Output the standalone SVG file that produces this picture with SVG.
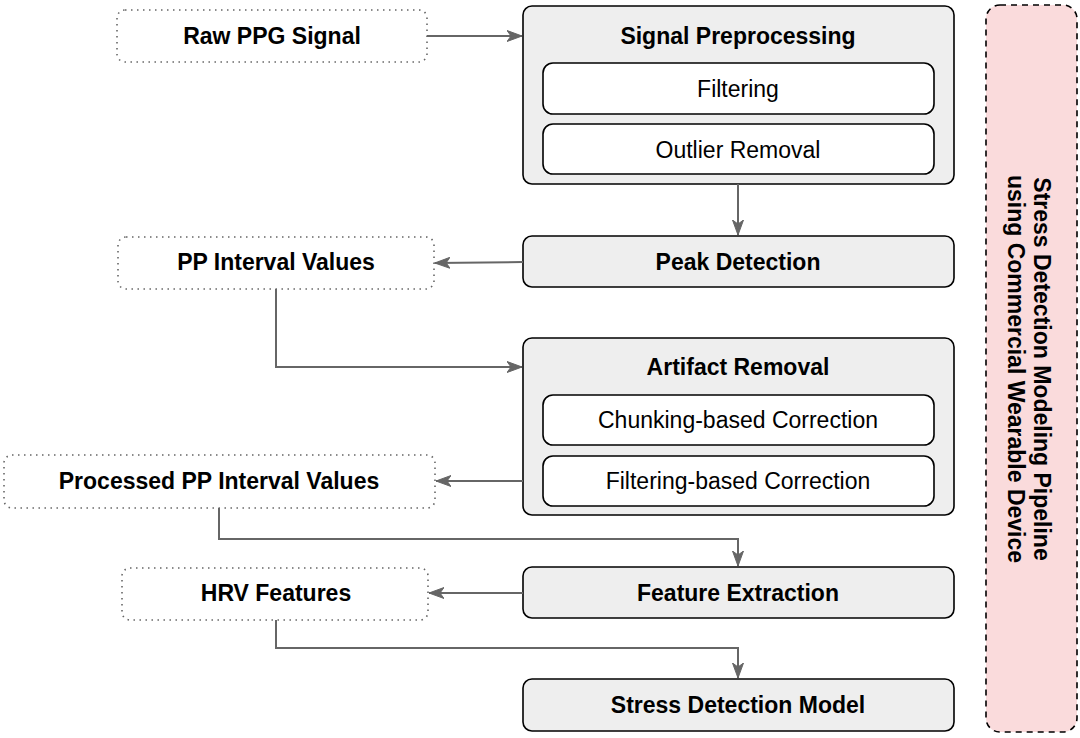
<svg xmlns="http://www.w3.org/2000/svg" width="1080" height="738" viewBox="0 0 1080 738">
<defs>
<marker id="arr" markerUnits="userSpaceOnUse" markerWidth="16" markerHeight="12" viewBox="0 0 16 12" refX="15" refY="6" orient="auto">
<path d="M0,0.5 L15,6 L0,11.5 L4,6 Z" fill="#666666" stroke="#666666" stroke-width="1"/>
</marker>
</defs>
<style>
.main{fill:#eeeeee;stroke:#000000;stroke-width:1.6}
.sub{fill:#ffffff;stroke:#000000;stroke-width:1.6}
.dot{fill:#ffffff;stroke:#666666;stroke-width:1.6;stroke-dasharray:1.5 4.5}
.b{font-family:"Liberation Sans",Arial,sans-serif;font-size:23px;font-weight:bold;fill:#000;text-anchor:middle;dominant-baseline:central}
.n{font-family:"Liberation Sans",Arial,sans-serif;font-size:23px;fill:#000;text-anchor:middle;dominant-baseline:central}
.c{fill:none;stroke:#666666;stroke-width:2}
</style>
<rect width="1080" height="738" fill="#ffffff"/>
<g id="panel">
<rect x="986" y="5" width="91" height="727" rx="14" fill="#fadbdc" stroke="#000000" stroke-width="1.6" stroke-dasharray="6 5"/>
<text class="b" transform="translate(1042,369) rotate(90)">Stress Detection Modeling Pipeline</text>
<text class="b" transform="translate(1016,369) rotate(90)">using Commercial Wearable Device</text>
</g>
<g id="raw">
<rect class="dot" x="117" y="10" width="310" height="52" rx="8"/>
<text class="b" x="272" y="36">Raw PPG Signal</text>
</g>
<g id="preproc">
<rect class="main" x="523" y="6" width="431" height="178" rx="9"/>
<text class="b" x="738" y="36">Signal Preprocessing</text>
<rect class="sub" x="543" y="63" width="391" height="51" rx="10"/>
<text class="n" x="738" y="89">Filtering</text>
<rect class="sub" x="543" y="124" width="391" height="50" rx="10"/>
<text class="n" x="738" y="150">Outlier Removal</text>
</g>
<g id="peak">
<rect class="main" x="523" y="236" width="431" height="51" rx="9"/>
<text class="b" x="738" y="262">Peak Detection</text>
</g>
<g id="ppi">
<rect class="dot" x="118" y="237" width="316" height="52" rx="8"/>
<text class="b" x="276" y="262">PP Interval Values</text>
</g>
<g id="artifact">
<rect class="main" x="523" y="338" width="431" height="177" rx="9"/>
<text class="b" x="738" y="367">Artifact Removal</text>
<rect class="sub" x="543" y="395" width="391" height="50" rx="10"/>
<text class="n" x="738" y="420">Chunking-based Correction</text>
<rect class="sub" x="543" y="456" width="391" height="50" rx="10"/>
<text class="n" x="738" y="481">Filtering-based Correction</text>
</g>
<g id="processed">
<rect class="dot" x="4" y="455" width="431" height="53" rx="8"/>
<text class="b" x="219" y="481">Processed PP Interval Values</text>
</g>
<g id="feature">
<rect class="main" x="523" y="567" width="431" height="51" rx="9"/>
<text class="b" x="738" y="593">Feature Extraction</text>
</g>
<g id="hrv">
<rect class="dot" x="122" y="568" width="306" height="52" rx="8"/>
<text class="b" x="276" y="593">HRV Features</text>
</g>
<g id="model">
<rect class="main" x="523" y="679" width="431" height="52" rx="9"/>
<text class="b" x="738" y="705">Stress Detection Model</text>
</g>
<g id="connectors">
<path class="c" d="M427,36 L522,36" marker-end="url(#arr)"/>
<path class="c" d="M738,184 L738,235" marker-end="url(#arr)"/>
<path class="c" d="M523,262 L435,263" marker-end="url(#arr)"/>
<path class="c" d="M276,289 L276,367 L522,367" marker-end="url(#arr)"/>
<path class="c" d="M523,481 L436,481" marker-end="url(#arr)"/>
<path class="c" d="M219,508 L219,539 L738,539 L738,566" marker-end="url(#arr)"/>
<path class="c" d="M523,593 L429,593" marker-end="url(#arr)"/>
<path class="c" d="M276,620 L276,648 L738,648 L738,678" marker-end="url(#arr)"/>
</g>
</svg>
